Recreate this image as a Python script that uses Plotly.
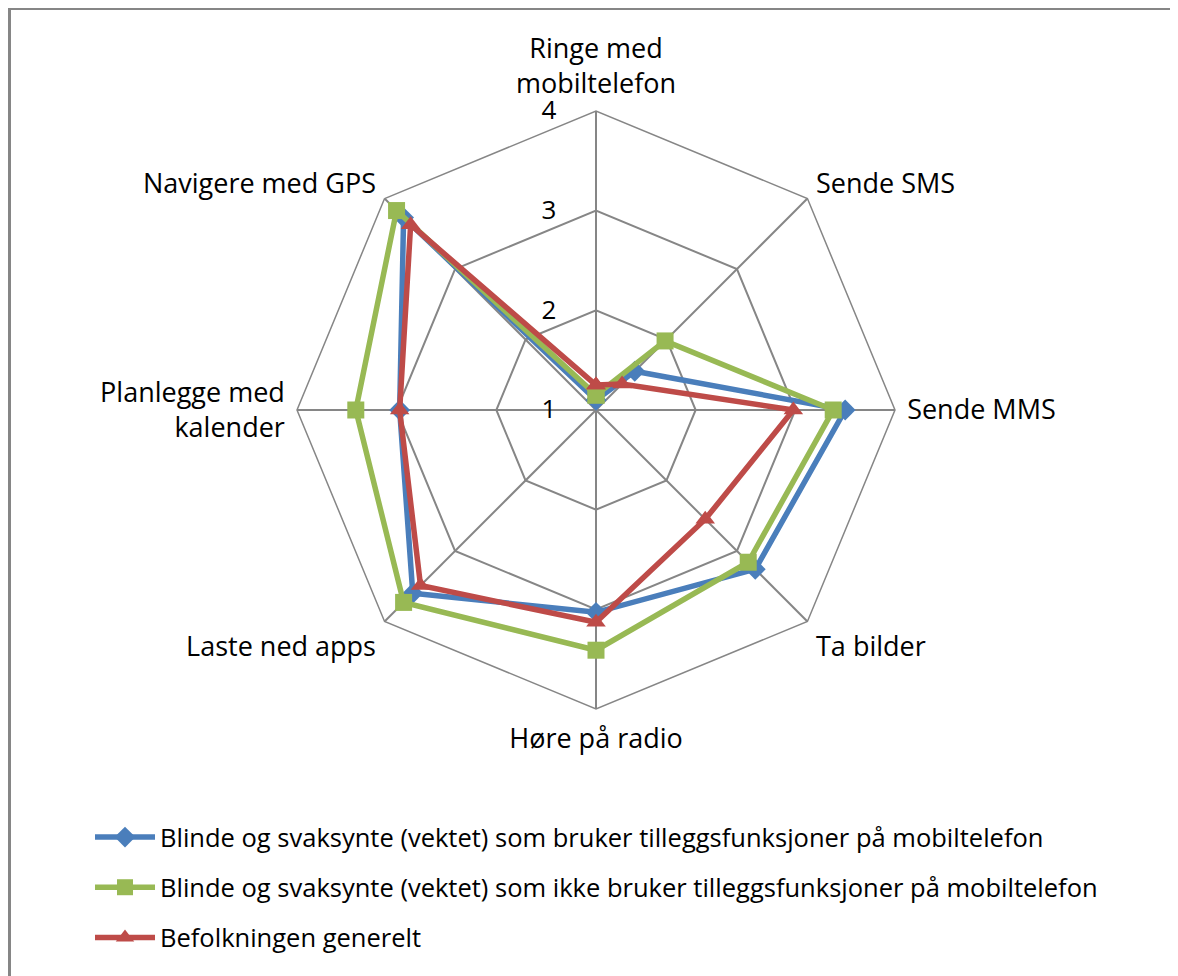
import plotly.graph_objects as go

W, H = 1178, 976

categories = ["Ringe med<br>mobiltelefon", "Sende SMS", "Sende MMS", "Ta bilder",
              "Høre på radio", "Laste ned apps", "Planlegge med<br>kalender", "Navigere med GPS"]

blue_vals = [1.10, 1.55, 3.50, 3.26, 3.03, 3.60, 2.97, 3.73]
green_vals = [1.15, 1.98, 3.38, 3.16, 3.41, 3.73, 3.41, 3.83]
red_vals = [1.25, 1.37, 2.98, 2.55, 3.13, 3.49, 2.97, 3.63]

names = ["Blinde og svaksynte (vektet) som bruker tilleggsfunksjoner på mobiltelefon",
         "Blinde og svaksynte (vektet) som ikke bruker tilleggsfunksjoner på mobiltelefon",
         "Befolkningen generelt"]
colors = ["#4a7ebb", "#98b954", "#be4b48"]
symbols = ["diamond", "square", "triangle-up"]
sizes = [16, 17, 17]

FONT = "Open Sans"

fig = go.Figure()
for i, vals in enumerate([blue_vals, green_vals, red_vals]):
    fig.add_trace(go.Scatterpolar(
        r=vals + vals[:1],
        theta=categories + categories[:1],
        mode="lines+markers",
        name=names[i],
        legendgroup=str(i),
        line=dict(color=colors[i], width=5.5),
        marker=dict(symbol=symbols[i], size=sizes[i], color=colors[i]),
    ))

# page has an 8px body margin, so positions below are page px minus 8
cx, cy, rad = 588, 402, 299
fig.update_layout(
    width=W, height=H,
    margin=dict(l=0, r=0, t=0, b=0),
    paper_bgcolor="white",
    plot_bgcolor="white",
    font=dict(family=FONT, size=26, color="black"),
    polar=dict(
        domain=dict(x=[(cx - rad) / W, (cx + rad) / W],
                    y=[(H - cy - rad) / H, (H - cy + rad) / H]),
        gridshape="linear",
        bgcolor="white",
        radialaxis=dict(range=[1, 4], tickvals=[1, 2, 3, 4], angle=90, tickangle=90,
                        side="counterclockwise", showline=False,
                        gridcolor="#868686", gridwidth=1.5,
                        ticks="outside", ticklen=30, tickcolor="rgba(0,0,0,0)",
                        tickfont=dict(family=FONT, size=26)),
        angularaxis=dict(rotation=90, direction="clockwise",
                         linecolor="#868686", linewidth=1.5,
                         gridcolor="#868686", gridwidth=1.5,
                         ticks="outside", ticklen=6, tickcolor="rgba(0,0,0,0)",
                         tickfont=dict(family=FONT, size=27)),
    ),
    legend=dict(x=82 / W, y=1 - 806 / H, xanchor="left", yanchor="top",
                font=dict(family=FONT, size=25.5), tracegroupgap=14,
                itemwidth=60),
    shapes=[
        dict(type="line", xref="paper", yref="paper", x0=1.5 / W, x1=1.5 / W, y0=0, y1=1,
             line=dict(color="#868686", width=3)),
        dict(type="line", xref="paper", yref="paper", x0=0, x1=1, y0=1 - 1 / H, y1=1 - 1 / H,
             line=dict(color="#868686", width=2)),
    ],
)

fig.write_html("out.html")
